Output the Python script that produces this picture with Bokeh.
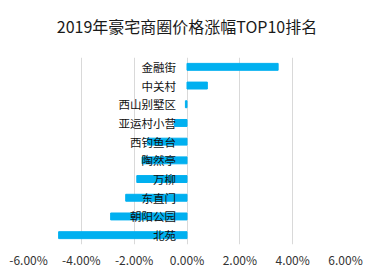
from bokeh.plotting import figure
from bokeh.models import FactorRange, PrintfTickFormatter, FixedTicker, ColumnDataSource, Title
from bokeh.core.properties import value
from bokeh.embed import file_html
from bokeh.resources import INLINE

categories = ["金融街", "中关村", "西山别墅区", "亚运村小营", "西钓鱼台", "陶然亭", "万柳", "东直门", "朝阳公园", "北苑"]
changes = [3.45, 0.77, -0.06, -0.47, -1.5, -1.7, -1.9, -2.32, -2.89, -4.86]
x_ticks = [-6, -4, -2, 0, 2, 4, 6]
title_text = "2019年豪宅商圈价格涨幅TOP10排名"

FONT = "Noto Sans CJK SC"

src = ColumnDataSource(dict(cat=categories, val=changes, zero=[0] * len(categories)))

p = figure(frame_width=317, frame_height=187, output_backend="svg", toolbar_location=None,
           y_range=FactorRange(factors=categories[::-1]), x_range=(-6, 6),
           min_border_left=28, min_border_right=26, min_border_top=57, min_border_bottom=32,
           outline_line_color=None, title=None)

spacer = Title(text=" ", text_font_size="2px", text_font=FONT)
main_title = Title(text=title_text, align="center", text_font=FONT, text_font_size="16px",
                   text_font_style="normal", text_color="#1a1a1a")
p.add_layout(spacer, "above")
p.add_layout(main_title, "above")

p.hbar(y="cat", left="zero", right="val", height=0.37, color="#00b0f0", source=src)
p.text(x="zero", y="cat", text="cat", source=src, x_offset=-11,
       text_align="right", text_baseline="middle", text_font=value(FONT),
       text_font_size="11.5px", text_color="#111111")

p.xaxis.ticker = FixedTicker(ticks=x_ticks)
p.xaxis.formatter = PrintfTickFormatter(format="%.2f%%")
p.xaxis.axis_line_color = None
p.xaxis.major_tick_line_color = None
p.xaxis.minor_tick_line_color = None
p.xaxis.major_label_text_font = FONT
p.xaxis.major_label_text_font_size = "12px"
p.xaxis.major_label_text_color = "#333333"
p.xaxis.major_label_standoff = 0
p.yaxis.visible = False
p.ygrid.grid_line_color = None
p.xgrid.grid_line_color = "#d9d9d9"
p.xgrid.ticker = FixedTicker(ticks=x_ticks)

open("out.html", "w").write(file_html(p, INLINE))
